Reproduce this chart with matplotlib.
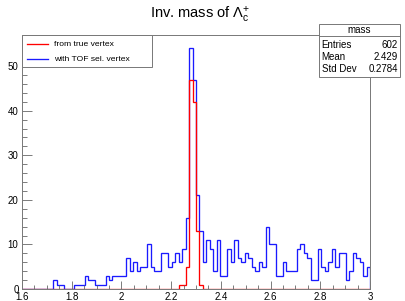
import numpy as np
import matplotlib
matplotlib.use("Agg")
import matplotlib.pyplot as plt
from matplotlib.patches import Rectangle
from matplotlib.lines import Line2D
from matplotlib.ticker import MultipleLocator

plt.rcParams['font.family'] = ['Liberation Sans', 'DejaVu Sans']
plt.rcParams['mathtext.fontset'] = 'custom'
plt.rcParams['mathtext.rm'] = 'Liberation Sans'
plt.rcParams['mathtext.it'] = 'Liberation Sans:italic'

# ---- data -------------------------------------------------------------
x_min, x_max, n_bins = 1.6, 3.0, 100

blue_counts = [
    0, 0, 0, 0, 0, 0, 0, 0, 0, 2,      # 0-9
    1, 1, 0, 0, 0, 1, 1, 1, 3, 2,      # 10-19
    2, 1, 1, 1, 3, 2, 3, 3, 3, 3,      # 20-29
    7, 4, 6, 4, 5, 5, 10, 5, 4, 4,     # 30-39
    8, 8, 5, 6, 8, 6, 9, 16, 54, 47,   # 40-49
    21, 13, 6, 11, 9, 4, 11, 3, 3, 9,  # 50-59
    6, 11, 7, 6, 8, 7, 5, 4, 6, 5,     # 60-69
    14, 10, 10, 3, 3, 6, 4, 4, 4, 9,   # 70-79
    10, 8, 7, 2, 2, 9, 5, 4, 6, 9,     # 80-89
    5, 8, 8, 2, 4, 8, 7, 6, 3, 5,      # 90-99
]
red_counts = [0] * 45 + [1, 1, 5, 47, 42, 13, 1] + [0] * 48

title_text = r"Inv. mass of $\mathrm{\Lambda}_{\mathrm{c}}^{+}$"
legend_labels = ["from true vertex", "with TOF sel. vertex"]
stats_name = "mass"
stats_rows = [("Entries", "602"), ("Mean", "2.429"), ("Std Dev", "0.2784")]

x_major = [1.6, 1.8, 2.0, 2.2, 2.4, 2.6, 2.8, 3.0]
x_major_labels = ["1.6", "1.8", "2", "2.2", "2.4", "2.6", "2.8", "3"]
y_major = [0, 10, 20, 30, 40, 50]

# ---- figure -----------------------------------------------------------
W, H = 405, 301
fig = plt.figure(figsize=(W / 100, H / 100), dpi=100)

def fx(px):
    return px / W

def fy(py):
    return 1 - py / H

L, R, T, B = 22, 370, 35, 289
ax = fig.add_axes([fx(L), fy(B), fx(R - L), (B - T) / H])

edges = np.linspace(x_min, x_max, n_bins + 1)
ax.stairs(blue_counts, edges, color='#1a1aff', linewidth=0.95, baseline=0)
ax.stairs(red_counts, edges, color='#ff0000', linewidth=0.95, baseline=0)

ax.set_xlim(x_min, x_max)
ax.set_ylim(0, 57)

ax.set_xticks(x_major)
ax.set_xticklabels(x_major_labels)
ax.xaxis.set_minor_locator(MultipleLocator(0.05))
ax.set_yticks(y_major)
ax.yaxis.set_minor_locator(MultipleLocator(2))

ax.tick_params(axis='x', which='major', direction='in', length=5.5, width=0.6,
               color='#666666', labelsize=7, pad=2.5, top=False)
ax.tick_params(axis='x', which='minor', direction='in', length=2.7, width=0.6,
               color='#666666', top=False)
ax.tick_params(axis='y', which='major', direction='in', length=7.5, width=0.6,
               color='#666666', labelsize=7, pad=2.5, right=False)
ax.tick_params(axis='y', which='minor', direction='in', length=3.7, width=0.6,
               color='#666666', right=False)
for s in ax.spines.values():
    s.set_color('#777777')
    s.set_linewidth(0.7)

# ---- title --------------------------------------------------------------
fig.text(fx(200), fy(15), title_text, ha='center', va='center', fontsize=10.5)

# ---- legend box -------------------------------------------------------
lx0, ly0, lx1, ly1 = 22, 35, 152, 67
fig.add_artist(Rectangle((fx(lx0), fy(ly1)), fx(lx1 - lx0), (ly1 - ly0) / H,
                         transform=fig.transFigure, facecolor='white',
                         edgecolor='#777777', linewidth=0.7, zorder=5))
for (yy, col, lab) in [(44, '#ff0000', legend_labels[0]),
                       (59, '#1a1aff', legend_labels[1])]:
    fig.add_artist(Line2D([fx(27), fx(48)], [fy(yy), fy(yy)],
                          transform=fig.transFigure, color=col,
                          linewidth=0.95, zorder=6))
    fig.text(fx(54), fy(yy), lab, ha='left', va='center', fontsize=6.1,
             zorder=6)

# ---- stats box --------------------------------------------------------
sx0, sy0, sx1, sy1 = 319, 24, 400, 77
fig.add_artist(Rectangle((fx(sx0), fy(sy1)), fx(sx1 - sx0), (sy1 - sy0) / H,
                         transform=fig.transFigure, facecolor='white',
                         edgecolor='#777777', linewidth=0.7, zorder=5))
fig.add_artist(Line2D([fx(sx0), fx(sx1)], [fy(35.5), fy(35.5)],
                      transform=fig.transFigure, color='#777777',
                      linewidth=0.7, zorder=6))
fig.text(fx((sx0 + sx1) / 2), fy(30), stats_name, ha='center', va='center',
         fontsize=7, zorder=6)
for i, (k, v) in enumerate(stats_rows):
    yy = 45.5 + 12 * i
    fig.text(fx(321.5), fy(yy), k, ha='left', va='center', fontsize=7, zorder=6)
    fig.text(fx(398), fy(yy), v, ha='right', va='center', fontsize=7, zorder=6)

fig.savefig("out.png", dpi=100, facecolor='white')
